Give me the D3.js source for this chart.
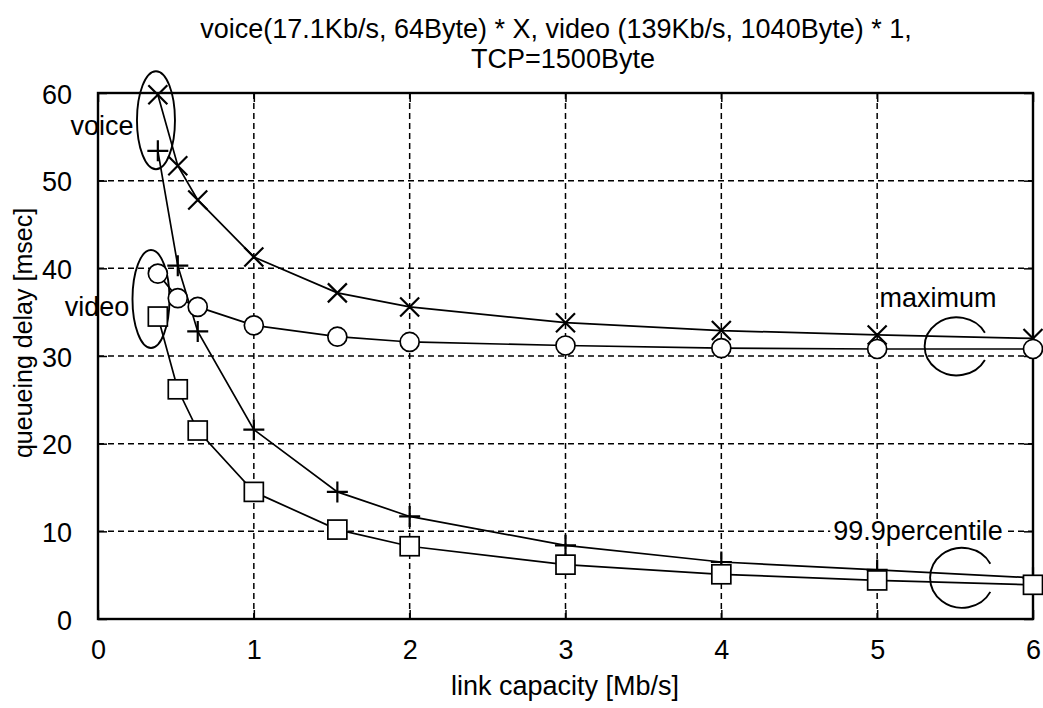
<!DOCTYPE html>
<html>
<head>
<meta charset="utf-8">
<script src="https://cdn.jsdelivr.net/npm/d3@7"></script>
<style>
  html, body { margin: 0; padding: 0; background: #fff; }
  svg { display: block; }
  text { font-family: "Liberation Sans", Arial, Helvetica, sans-serif; fill: #000; }
</style>
</head>
<body>
<script>
// ---------- data ----------
const titleLines = ["voice(17.1Kb/s, 64Byte) * X, video (139Kb/s, 1040Byte) * 1,", "TCP=1500Byte"];
const xLabel = "link capacity [Mb/s]";
const yLabel = "queueing delay [msec]";
const capacity = [0.384, 0.512, 0.64, 1.0, 1.536, 2, 3, 4, 5, 6];
const voiceMax   = [59.8, 51.7, 47.8, 41.3, 37.2, 35.6, 33.8, 32.9, 32.4, 32.0];
const voice999   = [53.4, 40.3, 32.8, 21.6, 14.5, 11.7, 8.4, 6.5, 5.6, 4.7];
const videoMax   = [39.4, 36.6, 35.6, 33.5, 32.2, 31.6, 31.2, 30.9, 30.8, 30.8];
const video999   = [34.5, 26.2, 21.5, 14.5, 10.2, 8.3, 6.2, 5.1, 4.4, 3.9];
const xTicks = [0, 1, 2, 3, 4, 5, 6];
const yTicks = [0, 10, 20, 30, 40, 50, 60];

const W = 1043, H = 708;
const svg = d3.select("body").append("svg").attr("width", W).attr("height", H);

const x = d3.scaleLinear().domain([0, 6]).range([98, 1033]);
const y = d3.scaleLinear().domain([0, 60]).range([619, 93]);
const fs = 27;

// grid
const grid = svg.append("g").attr("stroke", "#000").attr("stroke-width", 1.5).attr("stroke-dasharray", "6,4");
grid.selectAll(".gx").data(xTicks.slice(1, -1)).join("line")
  .attr("x1", d => x(d)).attr("x2", d => x(d)).attr("y1", y(60)).attr("y2", y(0));
grid.selectAll(".gy").data(yTicks.slice(1, -1)).join("line")
  .attr("x1", x(0)).attr("x2", x(6)).attr("y1", d => y(d)).attr("y2", d => y(d));

// axes via d3 (ticks inward)
const axB = svg.append("g").attr("transform", `translate(0,${y(0)})`)
  .call(d3.axisBottom(x).tickValues(xTicks).tickSize(-9).tickFormat(d3.format("d")));
const axT = svg.append("g").attr("transform", `translate(0,${y(60)})`)
  .call(d3.axisTop(x).tickValues(xTicks).tickSize(-9).tickFormat(""));
const axL = svg.append("g").attr("transform", `translate(${x(0)},0)`)
  .call(d3.axisLeft(y).tickValues(yTicks).tickSize(-9).tickPadding(26).tickFormat(d3.format("d")));
const axR = svg.append("g").attr("transform", `translate(${x(6)},0)`)
  .call(d3.axisRight(y).tickValues(yTicks).tickSize(-9).tickFormat(""));
[axB, axT, axL, axR].forEach(a => {
  a.select(".domain").remove();
  a.selectAll(".tick line").attr("stroke", "#000").attr("stroke-width", 1.5);
  a.selectAll("text").attr("font-size", fs).attr("font-family", "Liberation Sans, Arial, sans-serif").attr("fill", "#000");
});
axB.selectAll("text").attr("dy", "0.35em").attr("y", 31);
axL.selectAll("text").attr("dy", "0.38em");

// frame
svg.append("rect").attr("x", x(0)).attr("y", y(60)).attr("width", x(6) - x(0)).attr("height", y(0) - y(60))
  .attr("fill", "none").attr("stroke", "#000").attr("stroke-width", 2.4);

// titles
svg.append("text").attr("x", 556).attr("y", 38).attr("text-anchor", "middle").attr("font-size", fs).text(titleLines[0]);
svg.append("text").attr("x", 563).attr("y", 68).attr("text-anchor", "middle").attr("font-size", fs).text(titleLines[1]);
svg.append("text").attr("x", 565).attr("y", 695).attr("text-anchor", "middle").attr("font-size", fs).text(xLabel);
svg.append("text").attr("transform", "translate(32,333) rotate(-90)").attr("text-anchor", "middle").attr("font-size", 25).text(yLabel);

// lines
const line = d3.line().x((d, i) => x(capacity[i])).y(d => y(d));
const series = [
  {vals: voiceMax, sym: "x"},
  {vals: videoMax, sym: "o"},
  {vals: voice999, sym: "+"},
  {vals: video999, sym: "s"}
];
series.forEach(s => {
  svg.append("path").attr("d", line(s.vals)).attr("fill", "none").attr("stroke", "#000").attr("stroke-width", 1.7);
});

// annotation C arcs (open to the right)
function cArc(cx, cy, rx, ry, deg) {
  const t = deg * Math.PI / 180;
  const x1 = cx + rx * Math.cos(t), y1 = cy - ry * Math.sin(t);
  const y2 = cy + ry * Math.sin(t);
  return `M${x1},${y1} A${rx},${ry} 0 1 0 ${x1},${y2}`;
}
svg.append("path").attr("d", cArc(x(5.51), y(31.1), 32, 29, 28)).attr("fill", "none").attr("stroke", "#000").attr("stroke-width", 1.9);
svg.append("path").attr("d", cArc(x(5.545), y(4.7), 32, 30, 28)).attr("fill", "none").attr("stroke", "#000").attr("stroke-width", 1.9);

// ellipses
svg.append("ellipse").attr("cx", x(0.372)).attr("cy", y(56.9)).attr("rx", 19).attr("ry", 49)
  .attr("fill", "none").attr("stroke", "#000").attr("stroke-width", 1.9);
svg.append("ellipse").attr("cx", x(0.34)).attr("cy", y(36.5)).attr("rx", 18.5).attr("ry", 49)
  .attr("fill", "none").attr("stroke", "#000").attr("stroke-width", 1.9);

// markers
series.forEach(s => {
  const g = svg.append("g");
  s.vals.forEach((v, i) => {
    const cx = x(capacity[i]), cy = y(v);
    if (s.sym === "x") {
      const r = 9.5;
      g.append("path").attr("d", `M${cx - r},${cy - r}L${cx + r},${cy + r}M${cx - r},${cy + r}L${cx + r},${cy - r}`)
        .attr("stroke", "#000").attr("stroke-width", 2.2);
    } else if (s.sym === "+") {
      const r = 10.5;
      g.append("path").attr("d", `M${cx - r},${cy}L${cx + r},${cy}M${cx},${cy - r}L${cx},${cy + r}`)
        .attr("stroke", "#000").attr("stroke-width", 2.2);
    } else if (s.sym === "o") {
      g.append("circle").attr("cx", cx).attr("cy", cy).attr("r", 9.5)
        .attr("fill", "#fff").attr("stroke", "#000").attr("stroke-width", 1.7);
    } else {
      g.append("rect").attr("x", cx - 9.5).attr("y", cy - 9.5).attr("width", 19).attr("height", 19)
        .attr("fill", "#fff").attr("stroke", "#000").attr("stroke-width", 1.7);
    }
  });
});

// annotation labels
svg.append("text").attr("x", 102).attr("y", 135).attr("text-anchor", "middle").attr("font-size", fs).text("voice");
svg.append("text").attr("x", 97).attr("y", 316).attr("text-anchor", "middle").attr("font-size", fs).text("video");
svg.append("text").attr("x", 938).attr("y", 307).attr("text-anchor", "middle").attr("font-size", fs).text("maximum");
const pct = svg.append("text").attr("x", 918).attr("y", 540).attr("text-anchor", "middle").attr("font-size", fs).text("99.9percentile");
const bb = pct.node().getBBox();
svg.insert("rect", () => pct.node()).attr("x", bb.x - 3).attr("y", bb.y + 4).attr("width", bb.width + 6).attr("height", bb.height - 8).attr("fill", "#fff");
</script>
</body>
</html>
